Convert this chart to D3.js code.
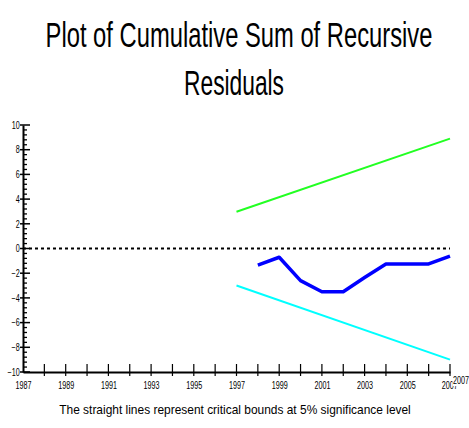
<!DOCTYPE html>
<html><head><meta charset="utf-8">
<script src="https://cdn.jsdelivr.net/npm/d3@7"></script>
<style>
html,body{margin:0;padding:0;background:#fff;}
svg{display:block;}
text{font-family:"Liberation Sans Narrow","Arial Narrow","Liberation Sans",Arial,sans-serif;}
</style></head>
<body>
<script>
// ---- data ----
const titleLines = ["Plot of Cumulative Sum of Recursive", "Residuals"];
const footnote = "The straight lines represent critical bounds at 5% significance level";
const xTickLabels = [1987, 1989, 1991, 1993, 1995, 1997, 1999, 2001, 2003, 2005, 2007];
const yTickLabels = [10, 8, 6, 4, 2, 0, -2, -4, -6, -8, -10];
const cusumYears = [1998, 1999, 2000, 2001, 2002, 2003, 2004, 2005, 2006, 2007];
const cusumValues = [-1.34, -0.71, -2.6, -3.5, -3.5, -2.35, -1.25, -1.25, -1.25, -0.61];
const boundYears = [1997, 2007];
const upperBound = [2.97, 8.9];
const lowerBound = [-3.0, -9.0];

const W = 469, H = 428;
const svg = d3.select("body").append("svg").attr("width", W).attr("height", H);

const x = d3.scaleLinear().domain([1987, 2007]).range([23, 450]);
const y = d3.scaleLinear().domain([-10, 10]).range([372, 125]);

// helper: text fitted to a width by horizontal scaling
function fitText(cx, by, str, size, width, anchor) {
  const g = svg.append("g").attr("transform", `translate(${cx},${by})`);
  const t = g.append("text").attr("text-anchor", anchor || "middle").attr("font-size", size).attr("fill", "#000").text(str);
  const w = t.node().getComputedTextLength();
  t.attr("transform", `scale(${width / w},1)`);
  return t;
}

// title
fitText(239, 47, titleLines[0], 35, 387);
fitText(234, 95, titleLines[1], 35, 100);

const SX = 0.72;
// y axis
const yAxis = d3.axisLeft(y).tickValues(yTickLabels).tickSize(0).tickPadding(4.5)
  .tickFormat(d3.format("d"));
const gy = svg.append("g").attr("transform", "translate(23,0)").call(yAxis);
gy.select(".domain").attr("stroke", "#000").attr("stroke-width", 2);
gy.selectAll("text").attr("font-size", 10).attr("fill", "#000").attr("transform", `scale(${SX},1)`)
  .style("font-family", '"Liberation Sans",Arial,sans-serif');
// major y ticks
svg.append("g").selectAll("line").data(yTickLabels).join("line")
  .attr("x1", 20).attr("x2", 30).attr("y1", d => y(d)).attr("y2", d => y(d))
  .attr("stroke", "#000").attr("stroke-width", 1.5);
// minor y ticks
const minor = d3.range(-10, 10.001, 0.4).filter(v => Math.abs(Math.round(v) - v) > 1e-6 || Math.round(v) % 2 !== 0);
svg.append("g").selectAll("line").data(minor).join("line")
  .attr("x1", 23).attr("x2", 27).attr("y1", d => y(d)).attr("y2", d => y(d))
  .attr("stroke", "#000").attr("stroke-width", 1.3);

// x axis
const gx = svg.append("g").attr("transform", "translate(0,372)")
  .call(d3.axisBottom(x).tickValues(xTickLabels).tickSize(0).tickPadding(10).tickFormat(d3.format("d")));
gx.select(".domain").attr("stroke", "#000").attr("stroke-width", 2);
gx.selectAll("text").attr("font-size", 10).attr("fill", "#000").attr("transform", `scale(${SX},1)`)
  .style("font-family", '"Liberation Sans",Arial,sans-serif');
gx.selectAll(".tick").filter(d => d === 2007).select("text").attr("x", -1);
// x ticks every year
svg.append("g").selectAll("line").data(d3.range(1988, 2008)).join("line")
  .attr("x1", d => x(d)).attr("x2", d => x(d)).attr("y1", 364).attr("y2", 376)
  .attr("stroke", "#000").attr("stroke-width", 1.2);
// extra overlapping 2007 label at the axis end
const last = xTickLabels[xTickLabels.length - 1];
svg.append("rect").attr("x", 452.5).attr("y", 375).attr("width", 17).attr("height", 11).attr("fill", "#fff");
svg.append("text").attr("x", 453).attr("y", 384).attr("font-size", 10).attr("fill", "#000")
  .attr("transform", `translate(${453 * (1 - SX)},0) scale(${SX},1)`)
  .style("font-family", '"Liberation Sans",Arial,sans-serif').text(last);

// zero line
svg.append("line").attr("x1", x(1987)).attr("x2", x(2007)).attr("y1", y(0)).attr("y2", y(0))
  .attr("stroke", "#000").attr("stroke-width", 2).attr("stroke-dasharray", "3,3");

const line = d3.line().x(d => x(d[0])).y(d => y(d[1]));
svg.append("path").datum(boundYears.map((yr, i) => [yr, upperBound[i]]))
  .attr("d", line).attr("fill", "none").attr("stroke", "#22ff22").attr("stroke-width", 2);
svg.append("path").datum(boundYears.map((yr, i) => [yr, lowerBound[i]]))
  .attr("d", line).attr("fill", "none").attr("stroke", "#00ffff").attr("stroke-width", 2);
svg.append("path").datum(cusumYears.map((yr, i) => [yr, cusumValues[i]]))
  .attr("d", line).attr("fill", "none").attr("stroke", "#0000ff").attr("stroke-width", 3.5)
  .attr("stroke-linejoin", "round");

// footnote
fitText(235, 414, footnote, 13, 352);
</script>
</body></html>
